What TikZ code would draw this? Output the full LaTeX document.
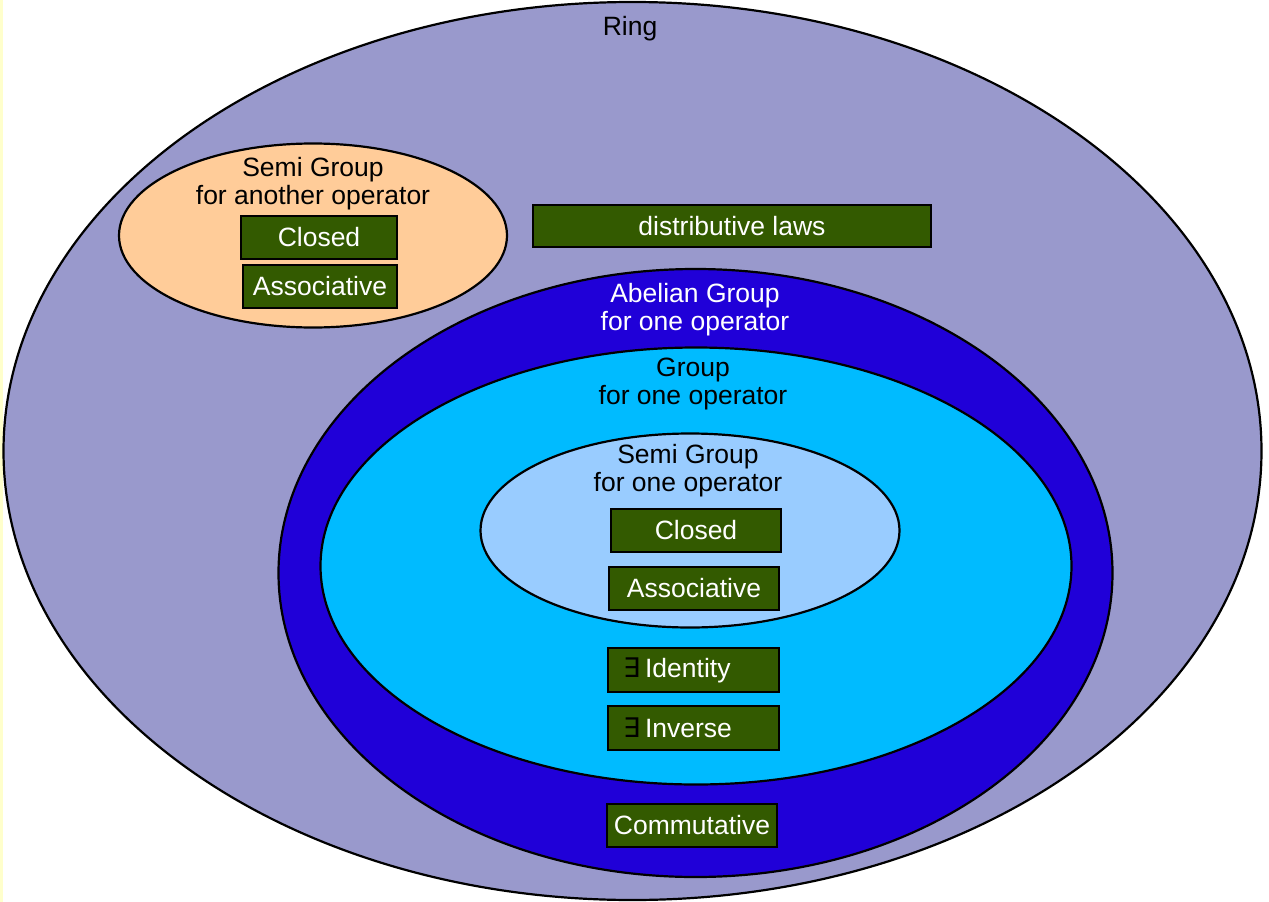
\documentclass[tikz,border=0pt]{standalone}
\usepackage{fontspec}
\setmainfont{Liberation Sans}
\newfontfamily\symfont{DejaVu Sans}
\usetikzlibrary{shapes.geometric}
\definecolor{ringc}{HTML}{9999CC}
\definecolor{semiother}{HTML}{FFCC99}
\definecolor{abelc}{HTML}{2000D8}
\definecolor{groupc}{HTML}{00BBFF}
\definecolor{semione}{HTML}{99CCFF}
\definecolor{boxgreen}{HTML}{335A00}
\definecolor{edgey}{HTML}{FFFFCC}
\begin{document}
\begin{tikzpicture}[x=1pt,y=-1pt,
  region/.style={ellipse, draw=black, line width=2.2pt, inner sep=0pt},
  prop/.style={draw=black, line width=1.6pt, fill=boxgreen, text=white, inner sep=0pt,
    font=\fontsize{26.5}{28}\selectfont},
  lbl/.style={align=center, inner sep=0pt, text=black, font=\fontsize{26.5}{28}\selectfont}]
\useasboundingbox (0,0) rectangle (1269,902);
\fill[edgey] (0,0) rectangle (2.5,902);
% regions
\node[region, fill=ringc, minimum width=1258pt, minimum height=898pt] (ring) at (632.5,451) {};
\node[region, fill=semiother, minimum width=388pt, minimum height=184pt] (semiB) at (313,235.5) {};
\node[region, fill=abelc, minimum width=834pt, minimum height=608pt] (abel) at (695.5,573) {};
\node[region, fill=groupc, minimum width=751pt, minimum height=437pt] (group) at (696,566) {};
\node[region, fill=semione, minimum width=419pt, minimum height=194pt] (semiA) at (690,530.5) {};
% labels
\node[lbl, anchor=base] (lring) at (630,35) {Ring};
\node[lbl, anchor=north] (lsemiB) at (313,157) {Semi Group\\for another operator};
\node[lbl, anchor=north, text=white] (label) at (695,283) {Abelian Group\\for one operator};
\node[lbl, anchor=north] (lgroup) at (693,358) {Group\\for one operator};
\node[lbl, anchor=north] (lsemiA) at (688,444) {Semi Group\\for one operator};
% property boxes
\node[prop, minimum width=398pt, minimum height=42pt] (dist) at (732,226) {distributive laws};
\node[prop, minimum width=156pt, minimum height=43pt] (closedB) at (319,237.5) {Closed};
\node[prop, minimum width=154pt, minimum height=43pt] (assocB) at (320,286.5) {Associative};
\node[prop, minimum width=170pt, minimum height=43pt] (closedA) at (696,530.5) {Closed};
\node[prop, minimum width=170pt, minimum height=43pt] (assocA) at (694,588.5) {Associative};
\node[prop, minimum height=44pt, text width=141pt, inner xsep=15pt, align=left] (ident) at (693.5,670) {{\symfont\color{black}\fontsize{27}{28}\selectfont ∃}\hspace{5pt}Identity};
\node[prop, minimum height=44pt, text width=141pt, inner xsep=15pt, align=left] (inv) at (693.5,728) {{\symfont\color{black}\fontsize{27}{28}\selectfont ∃}\hspace{5pt}Inverse};
\node[prop, minimum width=170pt, minimum height=43pt] (comm) at (692,825.5) {Commutative};
\end{tikzpicture}
\end{document}
